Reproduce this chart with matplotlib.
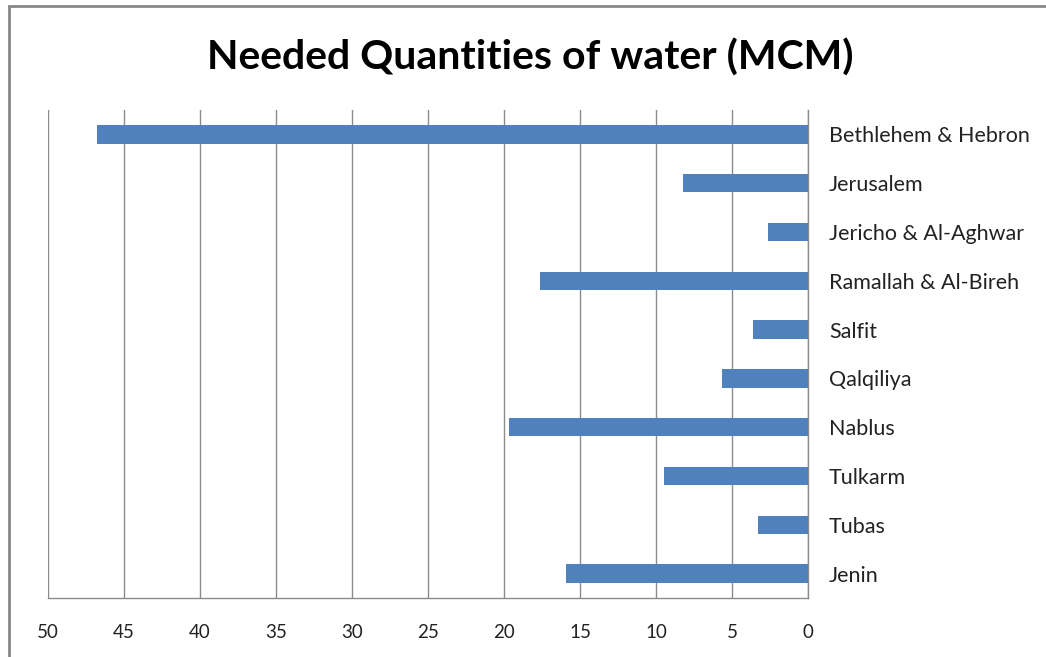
import matplotlib.pyplot as plt
from matplotlib.patches import Rectangle

# governorates listed top to bottom, quantities in MCM
governorates = ['Bethlehem & Hebron', 'Jerusalem', 'Jericho & Al-Aghwar',
                'Ramallah & Al-Bireh', 'Salfit', 'Qalqiliya', 'Nablus',
                'Tulkarm', 'Tubas', 'Jenin']
needed = [46.8, 8.25, 2.65, 17.65, 3.65, 5.65, 19.65, 9.45, 3.3, 15.95]
ticks = [50, 45, 40, 35, 30, 25, 20, 15, 10, 5, 0]

plt.rcParams['font.family'] = ['Lato', 'DejaVu Sans']

fig = plt.figure(figsize=(10.46, 6.57), dpi=100)
ax = fig.add_axes([0.0459, 0.0898, 0.7266, 0.7428])

pos = list(range(len(governorates)))[::-1]
ax.barh(pos, needed, height=0.38, color='#4f81bd', zorder=3)

ax.set_xlim(50, 0)
ax.set_ylim(-0.5, len(governorates) - 0.5)
ax.set_xticks(ticks)
ax.set_xticklabels([str(t) for t in ticks], fontsize=13.5, color='#222222')
ax.tick_params(axis='x', length=0, pad=19)

ax.yaxis.tick_right()
ax.set_yticks(pos)
ax.set_yticklabels(governorates, fontsize=15.5, color='#222222')
ax.tick_params(axis='y', length=0, pad=15)

ax.grid(axis='x', color='#8c8c8c', linewidth=1, zorder=0)
for side in ['top', 'left']:
    ax.spines[side].set_visible(False)
for side in ['bottom', 'right']:
    ax.spines[side].set_color('#8c8c8c')
    ax.spines[side].set_linewidth(1)

fig.text(0.507, 0.912, 'Needed Quantities of water (MCM)', ha='center',
         va='center', fontsize=29.5, fontweight='bold', color='black')

# chart frame, cut off at the right and bottom edges
fig.patches.append(Rectangle((9 / 1046, -0.05), 1.2, 1 - 6 / 657 + 0.05,
                             transform=fig.transFigure, fill=False,
                             edgecolor='#888888', linewidth=2))

fig.savefig('out.png', dpi=100)
